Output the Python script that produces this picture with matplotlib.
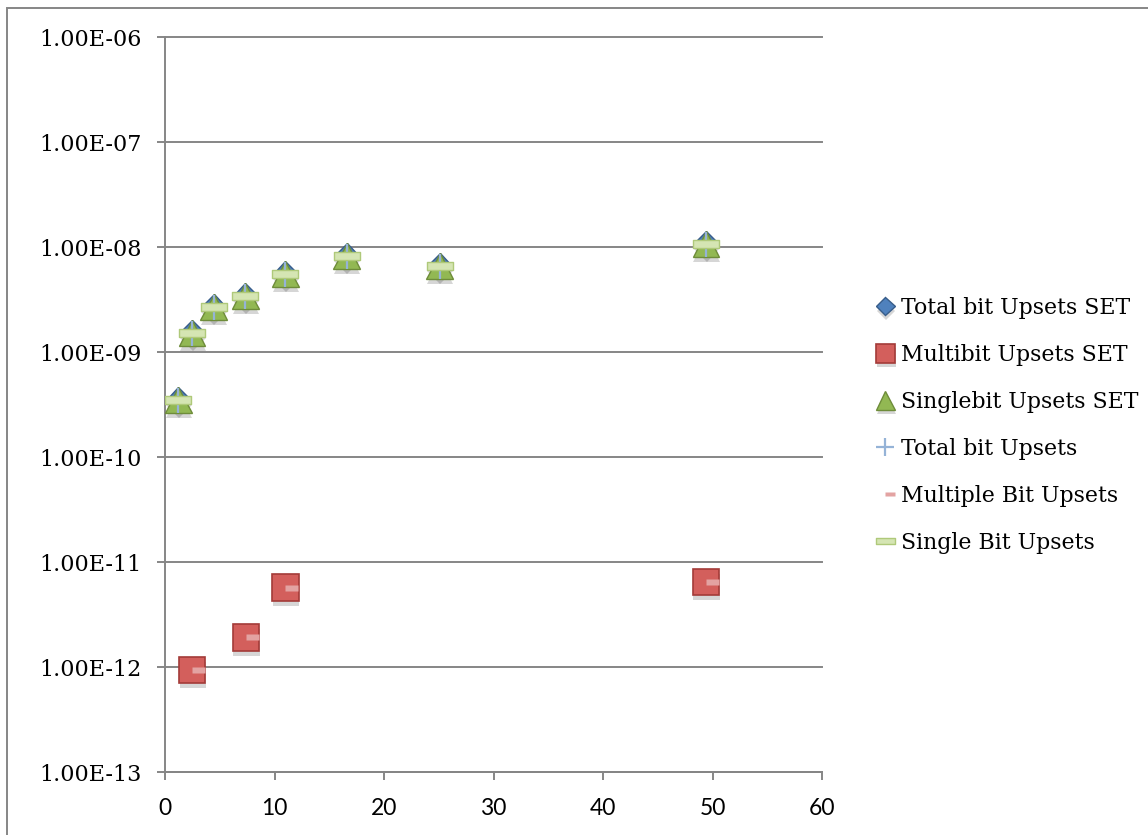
import numpy as np
import matplotlib
matplotlib.use("Agg")
import matplotlib.pyplot as plt
from matplotlib.path import Path
from matplotlib.patches import Rectangle
from matplotlib.ticker import FuncFormatter, FixedLocator, NullLocator
import matplotlib.patheffects as pe

# values
x_set = [1.23, 2.47, 4.43, 7.35, 11.0, 16.58, 25.07, 49.4]
total_set = [3.5e-10, 1.52e-9, 2.68e-9, 3.41e-9, 5.53e-9, 8.2e-9, 6.6e-9, 1.07e-8]
single_set = [3.5e-10, 1.52e-9, 2.68e-9, 3.41e-9, 5.53e-9, 8.2e-9, 6.6e-9, 1.07e-8]
x_multi = [2.47, 7.37, 11.0, 49.4]
multi_set = [9.36e-13, 1.91e-12, 5.71e-12, 6.45e-12]
# non-SET series (sit on top of the SET ones)
total_bits = total_set
single_bits = single_set
multi_bits = multi_set

y_ticks = [1e-13, 1e-12, 1e-11, 1e-10, 1e-9, 1e-8, 1e-7, 1e-6]
x_ticks = [0, 10, 20, 30, 40, 50, 60]

grey = "#868686"

# custom markers: wide centred bar, short bar on the right half
bar_mk = Path([(-1, -0.28), (1, -0.28), (1, 0.28), (-1, 0.28), (-1, -0.28)],
              [Path.MOVETO, Path.LINETO, Path.LINETO, Path.LINETO, Path.CLOSEPOLY])
dash_mk = Path([(0, -0.2), (1, -0.2), (1, 0.2), (0, 0.2), (0, -0.2)],
               [Path.MOVETO, Path.LINETO, Path.LINETO, Path.LINETO, Path.CLOSEPOLY])

W, H = 1148, 835
fig = plt.figure(figsize=(W / 100, H / 100), dpi=100, facecolor="white")
ax = fig.add_axes([165 / W, 1 - 772 / H, (822 - 165) / W, (772 - 37) / H])

shadow = [pe.SimplePatchShadow(offset=(0.5, -3.5), shadow_rgbFace="k", alpha=0.16), pe.Normal()]

ax.plot(x_set, total_set, ls="none", marker="D", ms=13, mfc="#4F81BD", mec="#385D8A",
        mew=1, label="Total bit Upsets SET", path_effects=shadow, zorder=3)
ax.plot(x_multi, multi_set, ls="none", marker="s", ms=19, mfc="#D35F5C", mec="#A33B38",
        mew=1.2, label="Multibit Upsets SET", path_effects=shadow, zorder=3)
ax.plot(x_set, single_set, ls="none", marker="^", ms=19, mfc="#92B853", mec="#6E8C3A",
        mew=1, label="Singlebit Upsets SET", path_effects=shadow, zorder=4)
ax.plot(x_set, total_bits, ls="none", marker="+", ms=18, mec="#95B3D7", mew=1.6,
        label="Total bit Upsets", zorder=5)
ax.plot(x_multi, multi_bits, ls="none", marker=dash_mk, ms=19, mfc="#E3A3A2", mec="none",
        label="Multiple Bit Upsets", zorder=5)
ax.plot(x_set, single_bits, ls="none", marker=bar_mk, ms=19, mfc="#D5E5B3", mec="#AFC97A",
        mew=1, label="Single Bit Upsets", zorder=6)

ax.set_yscale("log")
ax.set_ylim(1e-13, 1e-6)
ax.set_xlim(0, 60)
ax.yaxis.set_major_locator(FixedLocator(y_ticks))
ax.yaxis.set_minor_locator(NullLocator())
ax.yaxis.set_major_formatter(FuncFormatter(lambda v, p: f"{v:.2E}"))
ax.set_xticks(x_ticks)

ax.grid(axis="y", color=grey, lw=1.4)
ax.set_axisbelow(True)
for gl in ax.get_ygridlines():
    gl.set_clip_on(False)

for s in ("top", "right"):
    ax.spines[s].set_visible(False)
for s in ("left", "bottom"):
    ax.spines[s].set_color(grey)
    ax.spines[s].set_linewidth(1.4)

ax.tick_params(axis="y", direction="out", length=6, width=1.4, color=grey, pad=11,
               labelsize=16)
ax.tick_params(axis="x", direction="out", length=6, width=1.4, color=grey, pad=13,
               labelsize=16.5)
for lab in ax.get_yticklabels():
    lab.set_fontfamily("DejaVu Serif")
for lab in ax.get_xticklabels():
    lab.set_fontfamily("Lato")

leg = fig.legend(loc="upper left", bbox_to_anchor=(868 / W, 1 - 288 / H), frameon=False,
                 prop={"family": "DejaVu Serif", "size": 15.8}, markerscale=0.72,
                 handlelength=0.78, handletextpad=0.32, labelspacing=1.14, borderaxespad=0)

# outer chart frame (runs off the right and bottom edges)
fig.add_artist(Rectangle((6.5 / W, -0.1), 1.2, 1.1 - 8.5 / H, transform=fig.transFigure,
                         fill=False, ec=grey, lw=1.4))

fig.savefig("out.png", dpi=100, facecolor="white")
